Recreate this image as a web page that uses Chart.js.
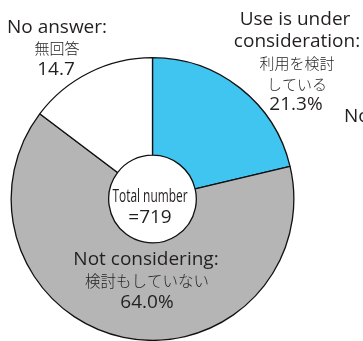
<!DOCTYPE html>
<html>
<head>
<meta charset="utf-8">
<script src="https://cdn.jsdelivr.net/npm/chart.js@4"></script>
<style>
  html, body { margin: 0; padding: 0; background: #fff; }
  #wrap { width: 363px; height: 341px; position: relative; }
</style>
</head>
<body>
<div id="wrap"><canvas id="pie"></canvas></div>
<script>
const labelsEn = ['Use is under consideration:', 'Not considering:', 'No answer:'];
const labelsJa = ['利用を検討している', '検討もしていない', '無回答'];
const shares = [21.3, 64.0, 14.7];
const sliceColors = ['#40c5f1', '#b5b5b5', '#ffffff'];
const totalCount = 719;

const EN = '"Open Sans", "Noto Sans", sans-serif';
const JA = '"Noto Sans CJK JP", sans-serif';

function latin(ctx, text, x, y, size) {
  ctx.font = size + 'px ' + EN;
  ctx.textBaseline = 'alphabetic';
  ctx.fillText(text, x, y);
}

function kana(ctx, text, x, y, size) {
  ctx.font = '300 ' + size + 'px ' + JA;
  ctx.textBaseline = 'middle';
  ctx.fillText(text, x, y);
}

// labels, center hole text
const textPlugin = {
  id: 'pieText',
  afterDraw(chart) {
    const ctx = chart.ctx;
    ctx.save();
    ctx.fillStyle = '#231f20';
    ctx.textAlign = 'center';

    // use is under consideration
    latin(ctx, 'Use is under', 295, 25, 19);
    latin(ctx, 'consideration:', 297, 47, 19);
    kana(ctx, labelsJa[0].slice(0, 5), 297, 63, 15);
    kana(ctx, labelsJa[0].slice(5), 297, 84, 15);
    latin(ctx, shares[0].toFixed(1) + '%', 296, 110, 19);

    // not considering
    latin(ctx, labelsEn[1], 146, 265, 19);
    kana(ctx, labelsJa[1], 147, 281, 15.5);
    latin(ctx, shares[1].toFixed(1) + '%', 147, 308, 19);

    // no answer
    latin(ctx, labelsEn[2], 57, 33, 19);
    kana(ctx, labelsJa[2], 57, 48, 15);
    latin(ctx, shares[2].toFixed(1), 56, 75, 19);

    // cut-off label at the right edge
    ctx.textAlign = 'left';
    latin(ctx, 'No', 344, 122, 19);

    // hole
    ctx.textAlign = 'center';
    ctx.save();
    ctx.translate(150, 202);
    ctx.scale(0.66, 1);
    latin(ctx, 'Total number', 0, 0, 18);
    ctx.restore();
    latin(ctx, '=' + totalCount, 150, 223, 19);
    ctx.restore();
  }
};

new Chart(document.getElementById('pie'), {
  type: 'doughnut',
  data: {
    labels: labelsEn,
    datasets: [{
      data: shares,
      backgroundColor: sliceColors,
      borderColor: '#111',
      borderWidth: 1.3
    }]
  },
  options: {
    responsive: true,
    maintainAspectRatio: false,
    animation: false,
    cutout: '31%',
    layout: { padding: { top: 57, bottom: 0, left: 10, right: 68 } },
    plugins: {
      legend: { display: false },
      tooltip: { enabled: false }
    }
  },
  plugins: [textPlugin]
});
</script>
</body>
</html>
